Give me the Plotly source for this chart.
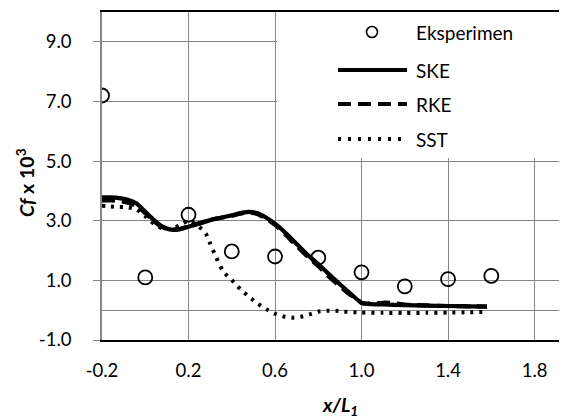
import plotly.graph_objects as go

# ---------------- data ----------------
exp_x = [-0.2, 0.0, 0.2, 0.4, 0.6, 0.8, 1.0, 1.2, 1.4, 1.6]
exp_y = [7.2, 1.1, 3.2, 1.97, 1.8, 1.76, 1.27, 0.8, 1.04, 1.15]

ske_x = [-0.2, -0.16, -0.12, -0.08, -0.04, 0.0, 0.04, 0.08, 0.12, 0.16, 0.2, 0.25, 0.3, 0.35,
         0.4, 0.45, 0.48, 0.52, 0.56, 0.6, 0.65, 0.7, 0.75, 0.8, 0.85, 0.9, 0.95, 1.0, 1.05,
         1.1, 1.2, 1.3, 1.4, 1.5, 1.58]
ske_y = [3.78, 3.78, 3.76, 3.7, 3.58, 3.3, 3.02, 2.8, 2.7, 2.72, 2.8, 2.9, 3.02, 3.1,
         3.18, 3.27, 3.3, 3.25, 3.1, 2.9, 2.58, 2.22, 1.86, 1.55, 1.2, 0.87, 0.55, 0.25, 0.2,
         0.19, 0.17, 0.15, 0.14, 0.13, 0.12]

rke_x = [-0.2, -0.16, -0.12, -0.08, -0.04, 0.0, 0.04, 0.08, 0.12, 0.16, 0.2, 0.25, 0.3, 0.35,
         0.4, 0.45, 0.48, 0.52, 0.56, 0.6, 0.65, 0.7, 0.75, 0.8, 0.85, 0.9, 0.95, 0.97, 1.0,
         1.05, 1.1, 1.15, 1.2, 1.3, 1.4, 1.5, 1.58]
rke_y = [3.68, 3.68, 3.66, 3.6, 3.5, 3.25, 2.98, 2.78, 2.7, 2.72, 2.82, 2.92, 3.03, 3.1,
         3.17, 3.25, 3.28, 3.22, 3.07, 2.86, 2.52, 2.15, 1.8, 1.48, 1.12, 0.8, 0.5, 0.45, 0.24,
         0.22, 0.25, 0.24, 0.19, 0.16, 0.14, 0.13, 0.12]

sst_x = [-0.2, -0.16, -0.12, -0.08, -0.04, 0.0, 0.04, 0.08, 0.12, 0.16, 0.2, 0.24, 0.28, 0.3,
         0.32, 0.36, 0.4, 0.44, 0.48, 0.52, 0.56, 0.6, 0.64, 0.68, 0.72, 0.76, 0.8, 0.84, 0.88,
         0.92, 1.0, 1.1, 1.2, 1.3, 1.4, 1.5, 1.58]
sst_y = [3.5, 3.48, 3.46, 3.45, 3.38, 3.15, 2.9, 2.74, 2.72, 2.85, 3.0, 2.85, 2.57, 2.24,
         1.9, 1.3, 1.01, 0.7, 0.45, 0.22, 0.03, -0.12, -0.21, -0.25, -0.22, -0.14, -0.05, -0.02,
         -0.02, -0.05, -0.08, -0.09, -0.09, -0.09, -0.08, -0.07, -0.06]

x_ticks = [-0.2, 0.2, 0.6, 1.0, 1.4, 1.8]
x_tick_text = ["-0.2", "0.2", "0.6", "1.0", "1.4", "1.8"]
y_ticks = [-1, 1, 3, 5, 7, 9]
y_tick_text = ["-1.0", "1.0", "3.0", "5.0", "7.0", "9.0"]

series_names = ["Eksperimen", "SKE", "RKE", "SST"]

FONT = "Lato, 'Open Sans', sans-serif"
GRID = "#868686"

fig = go.Figure()
fig.add_trace(go.Scatter(x=ske_x, y=ske_y, mode="lines", name=series_names[1],
                         line=dict(color="black", width=4.2, shape="spline", smoothing=0.6)))
fig.add_trace(go.Scatter(x=rke_x, y=rke_y, mode="lines", name=series_names[2],
                         line=dict(color="black", width=4.2, dash="13px,7px", shape="spline", smoothing=0.6)))
fig.add_trace(go.Scatter(x=sst_x, y=sst_y, mode="lines", name=series_names[3],
                         line=dict(color="black", width=4, dash="3px,6px", shape="spline", smoothing=0.6)))
fig.add_trace(go.Scatter(x=exp_x, y=exp_y, mode="markers", name=series_names[0],
                         marker=dict(symbol="circle-open", size=14, color="black",
                                     line=dict(color="black", width=1.8))))

# The page body has an 8px default margin, so the figure is drawn 8px smaller
# and all pixel positions below are given in page pixels minus that offset.
OFF = 8
W, H = 567 - OFF, 419 - OFF
L, R, T, B = 102 - OFF, 567 - OFF, 12 - OFF, 340 - OFF

def px(x):
    return (x - OFF - L) / (R - L)
def py(y):
    return (B - (y - OFF)) / (B - T)

shapes = [
    dict(type="rect", xref="paper", yref="paper", x0=px(277), x1=1.0, y0=py(158), y1=1.0,
         fillcolor="white", line=dict(width=0), layer="above"),
    dict(type="circle", xref="paper", yref="paper", x0=px(366.5), x1=px(377.5),
         y0=py(37.5), y1=py(26.5), line=dict(color="black", width=1.6), layer="above"),
    dict(type="line", xref="paper", yref="paper", x0=px(338), x1=px(407), y0=py(70), y1=py(70),
         line=dict(color="black", width=4.2), layer="above"),
    dict(type="line", xref="paper", yref="paper", x0=px(338), x1=px(407), y0=py(104), y1=py(104),
         line=dict(color="black", width=4.2, dash="13px,7px"), layer="above"),
    dict(type="line", xref="paper", yref="paper", x0=px(338), x1=px(407), y0=py(139), y1=py(139),
         line=dict(color="black", width=4, dash="3px,7px"), layer="above"),
]

annotations = []
for name, yy in zip(series_names, [32, 70, 104, 139]):
    annotations.append(dict(text=name, xref="paper", yref="paper", x=px(414), y=py(yy),
                            xanchor="left", yanchor="middle", showarrow=False,
                            font=dict(family=FONT, size=19, color="black")))
annotations.append(dict(text="<b><i>x/L<sub>1</sub></i></b>", xref="paper", yref="paper",
                        x=px(340), y=py(406), xanchor="center", yanchor="middle", showarrow=False,
                        font=dict(family=FONT, size=19.5, color="black")))
annotations.append(dict(text="<b><i>Cf</i> x 10<sup>3</sup></b>", xref="paper", yref="paper",
                        x=px(25), y=py(183), xanchor="center", yanchor="middle", showarrow=False,
                        textangle=-90, font=dict(family=FONT, size=19.5, color="black")))

fig.update_layout(
    width=W, height=H, autosize=False,
    margin=dict(l=L, r=W - R, t=T, b=H - B, pad=0),
    paper_bgcolor="white", plot_bgcolor="white",
    showlegend=False,
    font=dict(family=FONT, size=18.5, color="black"),
    shapes=shapes, annotations=annotations,
    xaxis=dict(range=[-0.2, 1.95], tickvals=x_ticks, ticktext=x_tick_text,
               showgrid=True, gridcolor=GRID, gridwidth=1.3, zeroline=False,
               showline=True, mirror=True, linecolor="black", linewidth=2,
               ticks="", ticklabelstandoff=13,
               tickfont=dict(family=FONT, size=18.5, color="black")),
    yaxis=dict(range=[-1, 10], tickvals=y_ticks, ticktext=y_tick_text,
               showgrid=True, gridcolor=GRID, gridwidth=1.3,
               zeroline=True, zerolinecolor=GRID, zerolinewidth=1.3,
               showline=True, linecolor=GRID, linewidth=1.5,
               ticks="outside", ticklen=7, tickcolor=GRID, tickwidth=1.3,
               ticklabelstandoff=18,
               tickfont=dict(family=FONT, size=18.5, color="black")),
)

fig.write_html("out.html")
